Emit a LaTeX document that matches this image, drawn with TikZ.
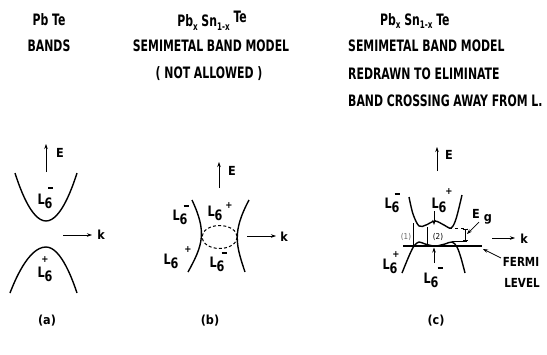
\documentclass[tikz,border=0pt]{standalone}
\usepackage{fontspec}
\usepackage{graphicx}
\setmainfont{DejaVu Sans Condensed}[BoldFont={DejaVu Sans Condensed Bold}]
\usetikzlibrary{arrows.meta}
\newcommand{\Lsix}{\scalebox{1}[1.15]{L\raisebox{-3.5pt}{6}}}
\newcommand{\mn}{\rule{5pt}{1.3pt}}
\newcommand{\PbSn}{Pb\raisebox{-3pt}{\footnotesize x}\ Sn\raisebox{-3pt}{\footnotesize 1-x}}
\newcommand{\tall}[1]{\scalebox{1}[1.3]{#1}}
\tikzset{
  every node/.style={inner sep=0pt, font=\bfseries\fontsize{12.5}{13}\selectfont},
  title/.style={font=\bfseries\fontsize{12.1}{13}\selectfont},
  sup/.style={font=\bfseries\fontsize{9.5}{10}\selectfont},
  captext/.style={font=\bfseries\fontsize{12.5}{13}\selectfont},
  band/.style={line width=1.4pt},
  axis/.style={line width=0.6pt, -{Stealth[length=5pt,width=3.5pt]}},
  pointer/.style={line width=0.7pt, -{Stealth[length=5pt,width=3.5pt]}},
  thin line/.style={line width=0.4pt},
}
\begin{document}
\begin{tikzpicture}[x=1pt,y=-1pt]
\useasboundingbox (0,0) rectangle (547,354);
% ---------- titles ----------
\node[title] (ta1) at (49,20) {\tall{Pb Te}};
\node[title] (ta2) at (49,46) {\tall{BANDS}};
\node[title] (tb1) at (212,21) {\tall{\PbSn\raisebox{3pt}{ Te}}};
\node[title] (tb2) at (211,46) {\tall{SEMIMETAL BAND MODEL}};
\node[title] (tb3) at (209,74) {\tall{( NOT ALLOWED )}};
\node[title, anchor=west] (tc1) at (380,21) {\tall{\PbSn\ Te}};
\node[title, anchor=west] (tc2) at (348,46) {\tall{SEMIMETAL BAND MODEL}};
\node[title, anchor=west] (tc3) at (348,74) {\tall{REDRAWN TO ELIMINATE}};
\node[title, anchor=west] (tc4) at (348,101) {\tall{BAND CROSSING AWAY FROM L.}};
% ---------- panel (a) ----------
\coordinate (aE0) at (46,172); \coordinate (aE1) at (46,144);
\draw[axis] (aE0) -- (aE1);
\node (aE) at (60,153) {E};
\coordinate (ak0) at (63,235); \coordinate (ak1) at (92,235);
\draw[axis] (ak0) -- (ak1);
\node (ak) at (101,235) {k};
\draw[band] (15,173) parabola bend (46,221) (77,173);
\draw[band] (10,293) parabola bend (46,247) (77,293);
\node (aL1) at (45,201) {\Lsix};
\node[sup] (aL1s) at (51,188) {\mn};
\node (aL2) at (45,274) {\Lsix};
\node[sup] (aL2s) at (45,260) {+};
% ---------- panel (b) ----------
\coordinate (bE0) at (219,188); \coordinate (bE1) at (219,162);
\draw[axis] (bE0) -- (bE1);
\node (bE) at (232,171) {E};
\coordinate (bk0) at (247,236); \coordinate (bk1) at (276,236);
\draw[axis] (bk0) -- (bk1);
\node (bk) at (284,237) {k};
\draw[band] (192,200) .. controls (207,232) and (203,245) .. (188,272);
\draw[band] (249,200) .. controls (232,232) and (236,245) .. (245,272);
\draw[line width=1pt, dash pattern=on 3pt off 2.2pt] (219.6,237) ellipse [x radius=17.6, y radius=11.5];
\node (bL1) at (180,217) {\Lsix};
\node[sup] (bL1s) at (186,206) {\mn};
\node (bL2) at (171,261) {\Lsix};
\node[sup] (bL2s) at (188,250) {+};
\node (bL3) at (215,213) {\Lsix};
\node[sup] (bL3s) at (229,206) {+};
\node (bL4) at (217,264) {\Lsix};
\node[sup] (bL4s) at (224,253) {\mn};
% ---------- panel (c) ----------
\coordinate (cE0) at (437,171); \coordinate (cE1) at (437,147);
\draw[axis] (cE0) -- (cE1);
\node (cE) at (449,155) {E};
\coordinate (ck0) at (492,238); \coordinate (ck1) at (515,238);
\draw[axis] (ck0) -- (ck1);
\node (ck) at (524,239) {k};
% bands
\draw[band] plot[smooth, tension=0.55] coordinates {(409,197) (413,214) (419,226) (426,225) (435,221) (444,225) (451,228) (456,219) (462,195)};
\draw[band] plot[smooth, tension=0.55] coordinates {(402,273) (409,256) (414,246) (419,242) (425,244) (435,246) (445,244) (452,242) (457,247) (461,258) (465,273)};
% Fermi level
\coordinate (fl0) at (403,246); \coordinate (fl1) at (482,246);
\draw[line width=1.4pt] (fl0) -- (fl1);
% region markers
\draw[thin line] (413,223) -- (413,246);
\draw[thin line] (427,227) -- (427,246);
\node[font=\fontsize{8}{9}\selectfont, text=black!60] (r1) at (406,237) {(1)};
\node[font=\fontsize{8}{9}\selectfont] (r2) at (438,237) {(2)};
% Eg marker
\draw[thin line, dashed] (449,228.5) -- (467,228.5);
\draw[thin line] (452,241) -- (467,241);
\draw[line width=0.5pt, {Bar[width=5pt]}-{Bar[width=5pt]}] (465,229) -- (465,240.5);
\node (cEg) at (476,214) {E};
\node (cEgs) at (488,219) {g};
\coordinate (eg0) at (479,222); \coordinate (eg1) at (467,234);
\draw[pointer] (eg0) -- (eg1);
% L6 arrows
\coordinate (la0) at (434,211); \coordinate (la1) at (434,225);
\draw[pointer] (la0) -- (la1);
\coordinate (lb0) at (434,263); \coordinate (lb1) at (434,247.5);
\draw[pointer] (lb0) -- (lb1);
% labels
\node (cL1) at (392,205) {\Lsix};
\node[sup] (cL1s) at (397,194) {\mn};
\node (cL2) at (439,205) {\Lsix};
\node[sup] (cL2s) at (449,192) {+};
\node (cL3) at (390,266) {\Lsix};
\node[sup] (cL3s) at (396,255) {+};
\node (cL4) at (431,280) {\Lsix};
\node[sup] (cL4s) at (440,268) {\mn};
% Fermi label
\node (fm1) at (521,262) {\scalebox{0.92}[1]{FERMI}};
\node (fm2) at (522,283) {\scalebox{0.92}[1]{LEVEL}};
\coordinate (fa0) at (501,258); \coordinate (fa1) at (483,249);
\draw[pointer] (fa0) -- (fa1);
% ---------- captions ----------
\node[captext] (capa) at (47,321) {(a)};
\node[captext] (capb) at (210,321) {(b)};
\node[captext] (capc) at (436,321) {(c)};
\end{tikzpicture}
\end{document}
